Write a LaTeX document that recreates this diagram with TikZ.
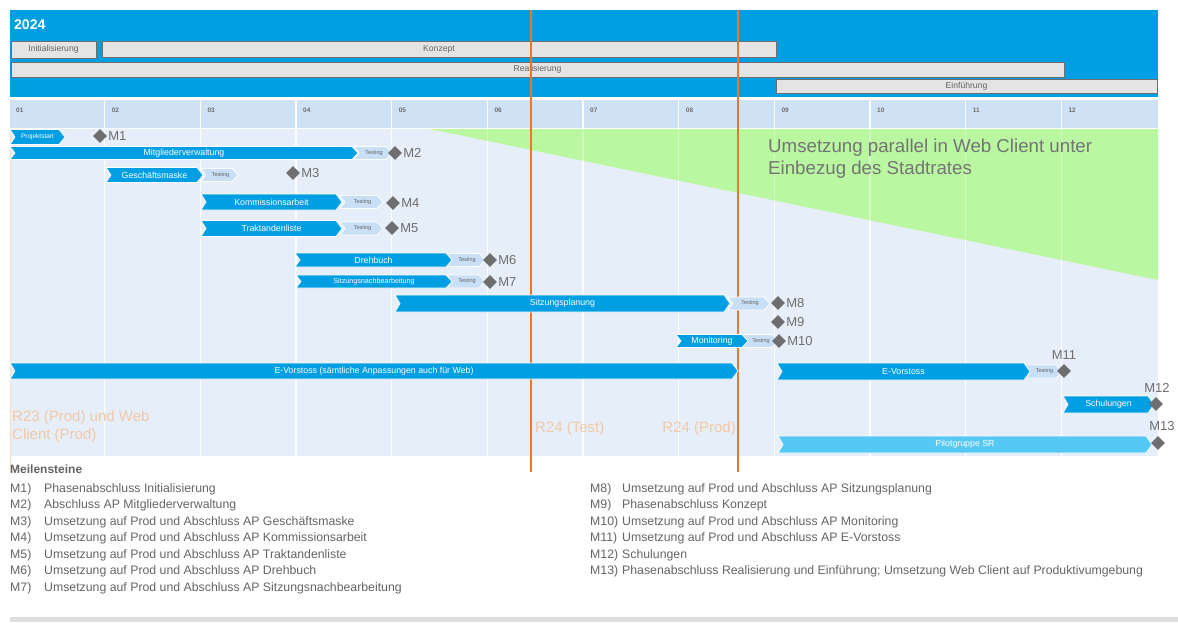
\documentclass[tikz,border=0pt]{standalone}
\usepackage{fontspec}
\setmainfont{Liberation Sans}
\usepackage{xcolor}
\usetikzlibrary{positioning,shapes.geometric}
\definecolor{hdblue}{HTML}{009FE3}
\definecolor{pilot}{HTML}{55C8F5}
\definecolor{testblue}{HTML}{C9DFF5}
\definecolor{monthrow}{HTML}{CFE2F5}
\definecolor{gridbg}{HTML}{E6EEF9}
\definecolor{phasegray}{HTML}{E4E4E4}
\definecolor{mgray}{HTML}{6E6E6E}
\definecolor{txtgray}{HTML}{646464}
\definecolor{parallel}{HTML}{B9F7A1}
\definecolor{release}{HTML}{E8782A}
\definecolor{releasetxt}{HTML}{F2C9A6}
\newcommand{\fs}[1]{\fontsize{#1}{#1}\selectfont}
% chevron bar: name, x1, x2, y, half height, fill, text
\newcommand{\chev}[7]{%
  \fill[#6,draw=white,line width=0.7] (#2,#4-#5) -- (#3-6,#4-#5) -- (#3,#4) -- (#3-6,#4+#5) -- (#2,#4+#5) -- (#2+5,#4) -- cycle;
  \node[bartext] (#1) at ({(#2+#3)/2},#4) {#7};}
\newcommand{\testing}[4]{%
  \fill[testblue,draw=white,line width=0.7] (#2,#4-6.5) -- (#3-6,#4-6.5) -- (#3,#4) -- (#3-6,#4+6.5) -- (#2,#4+6.5) -- (#2+5,#4) -- cycle;
  \node[testtext] (#1) at ({(#2+#3)/2+1},#4) {Testing};}

\begin{document}
\begin{tikzpicture}[x=1pt,y=-1pt,
    bartext/.style={text=white,font=\fs{8.8},inner sep=0},
    testtext/.style={text=txtgray,font=\fs{5.5},inner sep=0},
    phase/.style={draw=mgray,fill=phasegray,line width=1,inner sep=0,text=txtgray,font=\fs{8.6}},
    month/.style={anchor=west,text=mgray,font=\fs{6.5}\bfseries,inner sep=0},
    ms/.style={shape=diamond,fill=mgray,minimum size=14,inner sep=0},
    mlabel/.style={text=mgray,font=\fs{13},inner sep=1},
    rel/.style={text=releasetxt,font=\fs{15},inner sep=0},
    legend/.style={anchor=west,text=txtgray,font=\fs{12.3},inner sep=0}]
    \useasboundingbox (0,0) rectangle (1178,622);
    % header
    \fill[hdblue] (10,10) rectangle (1158,97);
    \node[anchor=west,text=white,font=\fs{14}\bfseries,inner sep=0] (year) at (14,25) {2024};
    \node[phase,minimum width=85,minimum height=17] (init) at (53.5,49.5) {Initialisierung};
    \node[phase,minimum width=674,minimum height=16] (konzept) at (439,49.5) {Konzept};
    \node[phase,minimum width=1053,minimum height=15] (real) at (537.5,69.5) {Realisierung};
    \node[phase,minimum width=381,minimum height=14] (einf) at (966.5,86) {Einführung};
    % months and grid
    \fill[monthrow] (10,100) rectangle (1158,127.5);
    \fill[gridbg] (10,129) rectangle (1158,456);
    \foreach \i in {1,...,11}
        \draw[white,line width=1.3] ({9+\i*95.67},100) -- ({9+\i*95.67},456);
    \foreach \m [count=\i from 0] in {01,02,03,04,05,06,07,08,09,10,11,12}
        \node[month] (mon\m) at ({16+\i*95.67},110) {\m};
    % parallel web client
    \fill[parallel] (430,129) -- (1158,129) -- (1158,280) -- cycle;
    \foreach \i in {5,...,11}
        \draw[white,opacity=0.35,line width=1.3] ({9+\i*95.67},129) -- ({9+\i*95.67},280);
    \node[anchor=north west,align=left,text=txtgray!90,font=\fontsize{18.7}{22}\selectfont,inner sep=0] (parallelnote) at (768,139) {Umsetzung parallel in Web Client unter\\Einbezug des Stadtrates};
    % releases
    \draw[releasetxt!60,line width=1] (10.5,129) -- (10.5,472);
    \draw[release,line width=1.3] (531,10) -- (531,472);
    \draw[release,line width=1.3] (738,10) -- (738,472);
    \node[rel,anchor=west,align=left,font=\fontsize{15}{18}\selectfont] (r23) at (12,427) {R23 (Prod) und Web\\Client (Prod)};
    \node[rel,anchor=west] (r24t) at (535,429) {R24 (Test)};
    \node[rel,anchor=east] (r24p) at (736,429) {R24 (Prod)};
    % bars
    \chev{proj}{10}{65}{137}{7.5}{hdblue}{\fs{6.5}Projektstart}
    \node[ms] (m1) at (100,136) {};
    \testing{t2}{354}{392}{153}
    \chev{mitglied}{10}{358}{153}{6.5}{hdblue}{Mitgliederverwaltung}
    \node[ms] (m2) at (395,153) {};
    \testing{t3}{201}{238}{175}
    \chev{gesch}{106}{203}{175}{7.5}{hdblue}{Geschäftsmaske}
    \node[ms] (m3) at (293,173) {};
    \testing{t4}{340}{383}{202}
    \chev{komm}{201}{342}{202}{8}{hdblue}{Kommissionsarbeit}
    \node[ms] (m4) at (393,203) {};
    \testing{t5}{340}{383}{228.5}
    \chev{trakt}{201}{342}{228.5}{8}{hdblue}{Traktandenliste}
    \node[ms] (m5) at (392,228) {};
    \testing{t6}{447}{485}{260}
    \chev{dreh}{295}{452}{260}{7}{hdblue}{Drehbuch}
    \node[ms] (m6) at (490,260) {};
    \testing{t7}{447}{485}{281.5}
    \chev{sitzn}{296}{452}{281.5}{6.5}{hdblue}{\fs{7.2}Sitzungsnachbearbeitung}
    \node[ms] (m7) at (490,282) {};
    \testing{t8}{728}{770}{303.5}
    \chev{sitzp}{395}{730}{303.5}{8.5}{hdblue}{Sitzungsplanung}
    \node[ms] (m8) at (778,303) {};
    \node[ms] (m9) at (778,322) {};
    \testing{t10}{742}{778}{341}
    \chev{moni}{676}{748}{341}{6.5}{hdblue}{Monitoring}
    \node[ms] (m10) at (779,341) {};
    \chev{evweb}{10}{738}{371}{8}{hdblue}{E-Vorstoss (sämtliche Anpassungen auch für Web)}
    \testing{t11}{1025}{1062}{371.5}
    \chev{ev}{777}{1030}{371.5}{8.5}{hdblue}{E-Vorstoss}
    \node[ms] (m11) at (1064,371) {};
    \chev{schul}{1063}{1154}{404.5}{8.5}{hdblue}{Schulungen}
    \node[ms] (m12) at (1156,404) {};
    \chev{pilot}{778}{1152}{444.5}{8.5}{pilot}{Pilotgruppe SR}
    \node[ms] (m13) at (1158,443) {};
    % milestone labels
    \foreach \k in {1,...,10}
        \node[mlabel,right=0pt of m\k] (m\k l) {M\k};
    \node[mlabel,above=3pt of m11] (m11l) {M11};
    \node[mlabel,above=3pt of m12,xshift=1pt] (m12l) {M12};
    \node[mlabel,above=4pt of m13,xshift=4pt] (m13l) {M13};
    % legend
    \node[legend,font=\fs{12}\bfseries] (legtitle) at (10,469) {Meilensteine};
    \foreach \k/\t [count=\i from 0] in {M1)/Phasenabschluss Initialisierung,
        M2)/Abschluss AP Mitgliederverwaltung,
        M3)/Umsetzung auf Prod und Abschluss AP Geschäftsmaske,
        M4)/Umsetzung auf Prod und Abschluss AP Kommissionsarbeit,
        M5)/Umsetzung auf Prod und Abschluss AP Traktandenliste,
        M6)/Umsetzung auf Prod und Abschluss AP Drehbuch,
        M7)/Umsetzung auf Prod und Abschluss AP Sitzungsnachbearbeitung}{
        \node[legend] (lk\i) at (10,{489+\i*16.5}) {\k};
        \node[legend] (lt\i) at (44,{489+\i*16.5}) {\t};
    }
    \foreach \k/\t [count=\i from 0] in {M8)/Umsetzung auf Prod und Abschluss AP Sitzungsplanung,
        M9)/Phasenabschluss Konzept,
        M10)/Umsetzung auf Prod und Abschluss AP Monitoring,
        M11)/Umsetzung auf Prod und Abschluss AP E-Vorstoss,
        M12)/Schulungen,
        M13)/Phasenabschluss Realisierung und Einführung; Umsetzung Web Client auf Produktivumgebung}{
        \node[legend] (rk\i) at (590,{489+\i*16.5}) {\k};
        \node[legend] (rt\i) at (622,{489+\i*16.5}) {\t};
    }
    \fill[black!13] (10,617) rectangle (1178,622);
\end{tikzpicture}
\end{document}
